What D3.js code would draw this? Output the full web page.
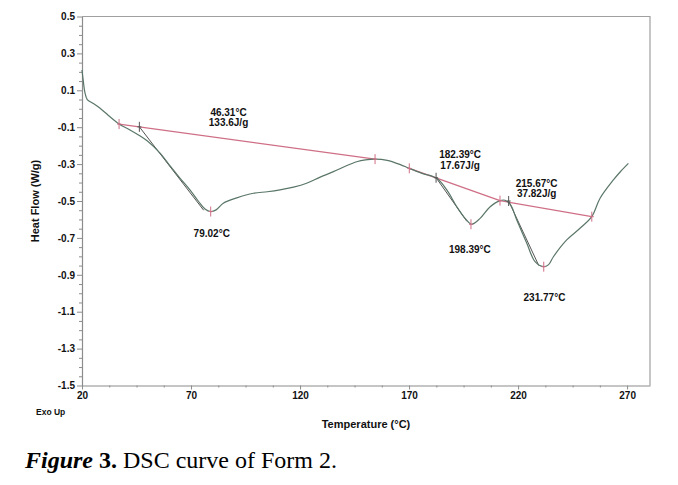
<!DOCTYPE html>
<html>
<head>
<meta charset="utf-8">
<script src="https://cdn.jsdelivr.net/npm/d3@7"></script>
<style>
  html, body { margin: 0; padding: 0; background: #fff; }
  svg { display: block; }
</style>
</head>
<body>
<svg id="chart" width="678" height="485"></svg>
<script>
// ---- Data ----
const temps = [20.0, 20.6, 21.3, 22.4, 25, 28, 32, 37, 42, 46.3, 50, 55.8, 60.4, 65, 69.5, 73.3, 76.4, 79.0, 81.5, 84.8, 91, 98.6, 105, 110.8, 117, 123, 129, 135.3, 141, 146, 150, 154.4, 160, 166, 170.1, 176, 182.7, 187.3, 191.9, 195.7, 198.6, 202.6, 207.2, 211.7, 214, 216.5, 219.4, 224, 227.8, 231.6, 234, 236.2, 242.3, 248.4, 253.8, 257.6, 263.7, 267, 270.6];
const heatFlow = [0.21, 0.15, 0.09, 0.05, 0.03, 0.005, -0.035, -0.083, -0.115, -0.145, -0.175, -0.24, -0.31, -0.377, -0.44, -0.5, -0.543, -0.557, -0.548, -0.512, -0.483, -0.458, -0.45, -0.44, -0.425, -0.404, -0.372, -0.341, -0.31, -0.287, -0.277, -0.273, -0.28, -0.303, -0.323, -0.35, -0.377, -0.44, -0.531, -0.594, -0.626, -0.594, -0.531, -0.498, -0.496, -0.52, -0.603, -0.729, -0.829, -0.856, -0.845, -0.802, -0.711, -0.648, -0.585, -0.485, -0.386, -0.34, -0.296];

// integration baselines: [x0, y0, x1, y1]
const baselines = [
  [37, -0.083, 154.4, -0.273],
  [170.1, -0.323, 211.7, -0.498],
  [211.7, -0.498, 253.8, -0.585]
];
// onset tangents: [x0, y0, x1, y1]
const tangents = [
  [46.31, -0.098, 75.8, -0.55],
  [182.39, -0.374, 196.5, -0.61],
  [215.67, -0.5, 229.5, -0.85]
];
const baselineMarks = [[37, -0.083], [154.4, -0.273], [170.1, -0.323], [211.7, -0.498], [253.8, -0.585]];
const onsetMarks = [[46.31, -0.098], [182.39, -0.374], [215.67, -0.5]];
const peakMarks = [[79.02, -0.557], [198.39, -0.626], [231.77, -0.856]];

// annotation text lines anchored at data coordinates [x, y]
const annotations = [
  { x: 87.2, y: -0.039, lines: ["46.31°C", "133.6J/g"] },
  { x: 79.5, y: -0.693, lines: ["79.02°C"] },
  { x: 193.4, y: -0.269, lines: ["182.39°C", "17.67J/g"] },
  { x: 197.9, y: -0.784, lines: ["198.39°C"] },
  { x: 228.5, y: -0.423, lines: ["215.67°C", "37.82J/g"] },
  { x: 232.1, y: -1.042, lines: ["231.77°C"] }
];

const xTicks = [20, 70, 120, 170, 220, 270];
const yTicks = [0.5, 0.3, 0.1, -0.1, -0.3, -0.5, -0.7, -0.9, -1.1, -1.3, -1.5];
const xLabel = "Temperature (°C)";
const yLabel = "Heat Flow (W/g)";
const cornerLabel = "Exo Up";

// ---- Layout ----
const svg = d3.select("#chart");
const L = 82, T = 16.5, R = 650, B = 385.5;
const x = d3.scaleLinear().domain([20, 280.5]).range([L, R]);
const y = d3.scaleLinear().domain([-1.5, 0.5]).range([B, T]);
const axisColor = "#8c8c8c";
const curveColor = "#5a7668";
const pink = "#cf6f86";
const font = "'Liberation Sans', Arial, sans-serif";

// frame (top and right)
svg.append("path")
  .attr("d", `M${L},${T}H${R}V${B}`)
  .attr("fill", "none").attr("stroke", "#a0a0a0").attr("stroke-width", 1.2);

// minor ticks
const xMinor = d3.range(20, 281, 12.5).filter(v => !xTicks.includes(v));
const yMinor = d3.range(-1.5, 0.5001, 0.05).map(v => +v.toFixed(2)).filter(v => !yTicks.includes(v));

const gx = svg.append("g").attr("transform", `translate(0,${B})`)
  .call(d3.axisBottom(x).tickValues(xTicks).tickFormat(d3.format("d")).tickSize(4).tickSizeOuter(0));
svg.append("g").attr("transform", `translate(0,${B})`)
  .call(d3.axisBottom(x).tickValues(xMinor).tickFormat("").tickSize(2).tickSizeOuter(0))
  .call(g => g.select(".domain").remove());
const gy = svg.append("g").attr("transform", `translate(${L},0)`)
  .call(d3.axisLeft(y).tickValues(yTicks).tickFormat(d => d.toFixed(1)).tickSize(5).tickSizeOuter(0));
svg.append("g").attr("transform", `translate(${L},0)`)
  .call(d3.axisLeft(y).tickValues(yMinor).tickFormat("").tickSize(3).tickSizeOuter(0))
  .call(g => g.select(".domain").remove());

svg.selectAll(".domain").attr("stroke", axisColor).attr("stroke-width", 1.2);
svg.selectAll(".tick line").attr("stroke", axisColor);
svg.selectAll(".tick text")
  .attr("font-family", font).attr("font-size", 10).attr("font-weight", "bold").attr("fill", "#111");
gx.selectAll(".tick text").attr("dy", "0.72em").attr("y", 6);
gy.selectAll(".tick text").attr("x", -7);

// baselines
svg.append("g").selectAll("line").data(baselines).join("line")
  .attr("x1", d => x(d[0])).attr("y1", d => y(d[1]))
  .attr("x2", d => x(d[2])).attr("y2", d => y(d[3]))
  .attr("stroke", pink).attr("stroke-width", 1.2);

// tangents
svg.append("g").selectAll("line").data(tangents).join("line")
  .attr("x1", d => x(d[0])).attr("y1", d => y(d[1]))
  .attr("x2", d => x(d[2])).attr("y2", d => y(d[3]))
  .attr("stroke", "#555").attr("stroke-width", 1);

// curve
const pts = temps.map((t, i) => [t, heatFlow[i]]);
svg.append("path").datum(pts)
  .attr("d", d3.line().x(d => x(d[0])).y(d => y(d[1])).curve(d3.curveCatmullRom.alpha(0.5)))
  .attr("fill", "none").attr("stroke", curveColor).attr("stroke-width", 1.2);

// markers
function marks(data, color) {
  svg.append("g").selectAll("path").data(data).join("path")
    .attr("d", d => `M${x(d[0])},${y(d[1]) - 5}V${y(d[1]) + 5}M${x(d[0]) - 2},${y(d[1])}H${x(d[0]) + 2}`)
    .attr("stroke", color).attr("stroke-width", 1).attr("fill", "none");
}
marks(baselineMarks, pink);
marks(onsetMarks, "#555");
marks(peakMarks, pink);

// annotations
annotations.forEach(a => {
  const t = svg.append("text")
    .attr("x", x(a.x)).attr("y", y(a.y))
    .attr("text-anchor", "middle")
    .attr("font-family", font).attr("font-size", 10).attr("font-weight", "bold").attr("fill", "#111");
  a.lines.forEach((ln, i) => {
    t.append("tspan").attr("x", x(a.x)).attr("dy", i === 0 ? 0 : 10.5).text(ln);
  });
});

// axis titles
svg.append("text")
  .attr("x", (L + R) / 2 - 0).attr("y", 428)
  .attr("text-anchor", "middle")
  .attr("font-family", font).attr("font-size", 11).attr("font-weight", "bold").attr("fill", "#111")
  .text(xLabel);
svg.append("text")
  .attr("transform", `translate(39,${(T + B) / 2}) rotate(-90)`)
  .attr("text-anchor", "middle")
  .attr("font-family", font).attr("font-size", 11).attr("font-weight", "bold").attr("fill", "#111")
  .text(yLabel);
svg.append("text")
  .attr("x", 36).attr("y", 415)
  .attr("font-family", font).attr("font-size", 8.5).attr("font-weight", "bold").attr("fill", "#111")
  .text(cornerLabel);

// caption
const cap = svg.append("text")
  .attr("x", 25).attr("y", 468)
  .attr("font-family", "'Liberation Serif', 'Times New Roman', serif").attr("font-size", 24).attr("fill", "#000");
cap.append("tspan").attr("font-weight", "bold").attr("font-style", "italic").text("Figure");
cap.append("tspan").attr("font-weight", "bold").text(" 3.");
cap.append("tspan").text(" DSC curve of Form 2.");
</script>
</body>
</html>
